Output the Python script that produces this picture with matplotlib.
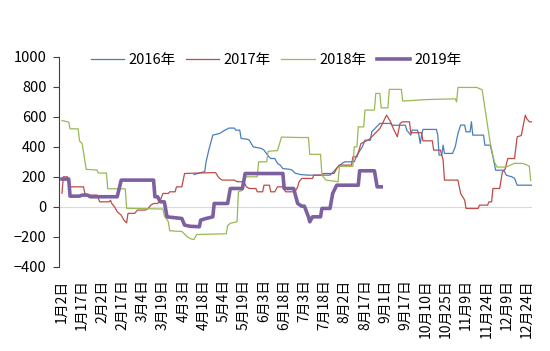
import numpy as np
import matplotlib
matplotlib.use("Agg")
import matplotlib.pyplot as plt

plt.rcParams['font.family'] = ['Noto Sans CJK SC', 'DejaVu Sans']

tick_labels = ["1月2日", "1月17日", "2月2日", "2月17日", "3月4日", "3月19日", "4月3日", "4月18日",
               "5月4日", "5月19日", "6月3日", "6月18日", "7月3日", "7月18日", "8月2日", "8月17日",
               "9月1日", "9月17日", "10月10日", "10月25日", "11月9日", "11月24日", "12月9日", "12月24日"]

# x = day offset from the first category, y = value
x2016 = [98, 101, 106, 107, 109, 112, 117, 121, 124, 128, 129, 132, 133, 138, 139, 142, 148, 150, 153, 155,
         158, 160, 162, 164, 169, 171, 173, 177, 183, 199, 202, 205, 208, 210, 217, 219, 223, 225, 229, 230,
         236, 244, 245, 255, 256, 259, 260, 264, 265, 266, 267, 268, 278, 279, 280, 282, 283, 284, 290, 292,
         294, 296, 299, 300, 303, 304, 305, 313, 314, 318, 320, 322, 328, 330, 334, 336, 338, 349]
y2016 = [215, 222, 235, 300, 378, 478, 489, 511, 525, 525, 511, 511, 456, 450, 445, 400, 389, 378, 340, 322,
         322, 290, 278, 255, 250, 244, 225, 215, 211, 211, 238, 267, 290, 300, 300, 344, 400, 444, 444, 500,
         556, 556, 544, 544, 511, 478, 511, 511, 478, 422, 478, 516, 516, 480, 345, 345, 411, 356, 356, 400,
         489, 545, 545, 500, 500, 567, 478, 478, 411, 411, 333, 244, 244, 210, 200, 190, 144, 144]

x2017 = [0, 1, 4, 6, 16, 17, 19, 26, 27, 28, 35, 36, 37, 39, 41, 44, 46, 48, 49, 54, 56, 62, 64, 66, 68,
         71, 73, 75, 79, 80, 84, 85, 89, 91, 100, 114, 116, 117, 119, 128, 130, 135, 137, 139, 144, 145,
         149, 150, 154, 155, 158, 160, 164, 166, 173, 175, 176, 178, 186, 187, 193, 194, 202, 204, 206,
         215, 216, 219, 222, 228, 236, 238, 241, 244, 246, 249, 251, 253, 258, 259, 267, 268, 275, 276,
         281, 283, 284, 294, 296, 299, 300, 309, 310, 316, 317, 319, 320, 325, 326, 327, 329, 331, 336,
         338, 341, 344, 345, 347, 349]
y2017 = [90, 200, 200, 133, 133, 89, 78, 78, 56, 33, 33, 44, 22, 0, -33, -56, -90, -107, -44, -44, -22,
         -22, -11, 11, 22, 22, 44, 89, 89, 100, 100, 133, 133, 222, 225, 228, 200, 189, 178, 178, 167, 167,
         133, 122, 122, 100, 100, 144, 144, 100, 100, 133, 133, 100, 100, 133, 167, 189, 189, 211, 211, 222,
         222, 256, 278, 278, 333, 333, 422, 449, 522, 556, 611, 567, 522, 467, 556, 567, 567, 494, 494, 440,
         440, 378, 378, 311, 178, 178, 89, 44, -11, -11, 11, 11, 33, 33, 122, 122, 178, 233, 250, 322, 322,
         467, 475, 611, 589, 567, 567]

x2018 = [0, 5, 6, 12, 13, 15, 18, 26, 27, 33, 34, 47, 48, 75, 76, 79, 80, 89, 93, 96, 98, 100, 122, 123,
         125, 130, 131, 134, 136, 145, 146, 152, 153, 160, 163, 176, 183, 184, 192, 193, 196, 205, 206,
         216, 217, 219, 220, 224, 225, 232, 233, 236, 237, 242, 243, 252, 253, 270, 292, 293, 294, 308,
         312, 315, 318, 321, 323, 330, 333, 336, 342, 345, 347, 348]
y2018 = [575, 565, 520, 520, 440, 420, 250, 245, 225, 225, 120, 120, -10, -15, -60, -100, -160, -165,
         -200, -215, -218, -185, -180, -125, -110, -100, 100, 110, 200, 200, 300, 300, 370, 375, 465, 462,
         462, 350, 350, 211, 178, 167, 270, 270, 400, 400, 533, 533, 645, 645, 756, 756, 660, 660, 783, 783,
         705, 715, 720, 700, 796, 796, 780, 600, 425, 300, 265, 265, 278, 290, 289, 280, 270, 175]

x2019 = [0, 5, 6, 13, 15, 19, 21, 41, 44, 68, 69, 71, 73, 76, 78, 89, 91, 95, 102, 103, 107, 112, 113,
         123, 125, 134, 136, 164, 165, 172, 173, 175, 178, 180, 183, 184, 186, 192, 193, 199, 201, 204,
         220, 221, 232, 234, 237]
y2019 = [185, 185, 71, 71, 78, 78, 67, 67, 178, 178, 67, 67, 33, 33, -67, -78, -122, -130, -133, -89,
         -78, -67, 22, 22, 122, 122, 222, 222, 122, 122, 89, 22, 4, 4, -67, -100, -67, -67, -11, -11, 89,
         144, 144, 240, 240, 133, 133]

fig = plt.figure(figsize=(5.5, 3.51), dpi=100)
ax = fig.add_axes([0.1073, 0.240, 0.860, 0.598])

ax.axhline(0, color="#d9d9d9", lw=0.8, zorder=1)
ax.plot(x2016, y2016, color="#4a7ebb", lw=0.9, label="2016年")
ax.plot(x2017, y2017, color="#be4b48", lw=0.9, label="2017年")
ax.plot(x2018, y2018, color="#98b954", lw=0.9, label="2018年")
ax.plot(x2019, y2019, color="#7d60a0", lw=2.6, label="2019年")

ax.set_xlim(-2.2, 349)
ax.set_ylim(-400, 1000)
ax.set_yticks(np.arange(-400, 1001, 200))
ax.set_xticks(np.arange(len(tick_labels)) * 15)
ax.set_xticklabels(tick_labels, rotation=90, fontsize=10)
ax.tick_params(axis="x", length=0, pad=9)
ax.tick_params(axis="y", length=4, pad=5, labelsize=10.5, color="#404040")

for s in ["top", "right", "bottom"]:
    ax.spines[s].set_visible(False)
ax.spines["left"].set_color("#404040")
ax.spines["left"].set_linewidth(0.8)

fig.legend(loc="center", bbox_to_anchor=(0.502, 0.829), ncol=4, frameon=False, fontsize=10.5,
           handlelength=2.3, handletextpad=0.3, columnspacing=0.7)

fig.savefig("out.png", dpi=100)
